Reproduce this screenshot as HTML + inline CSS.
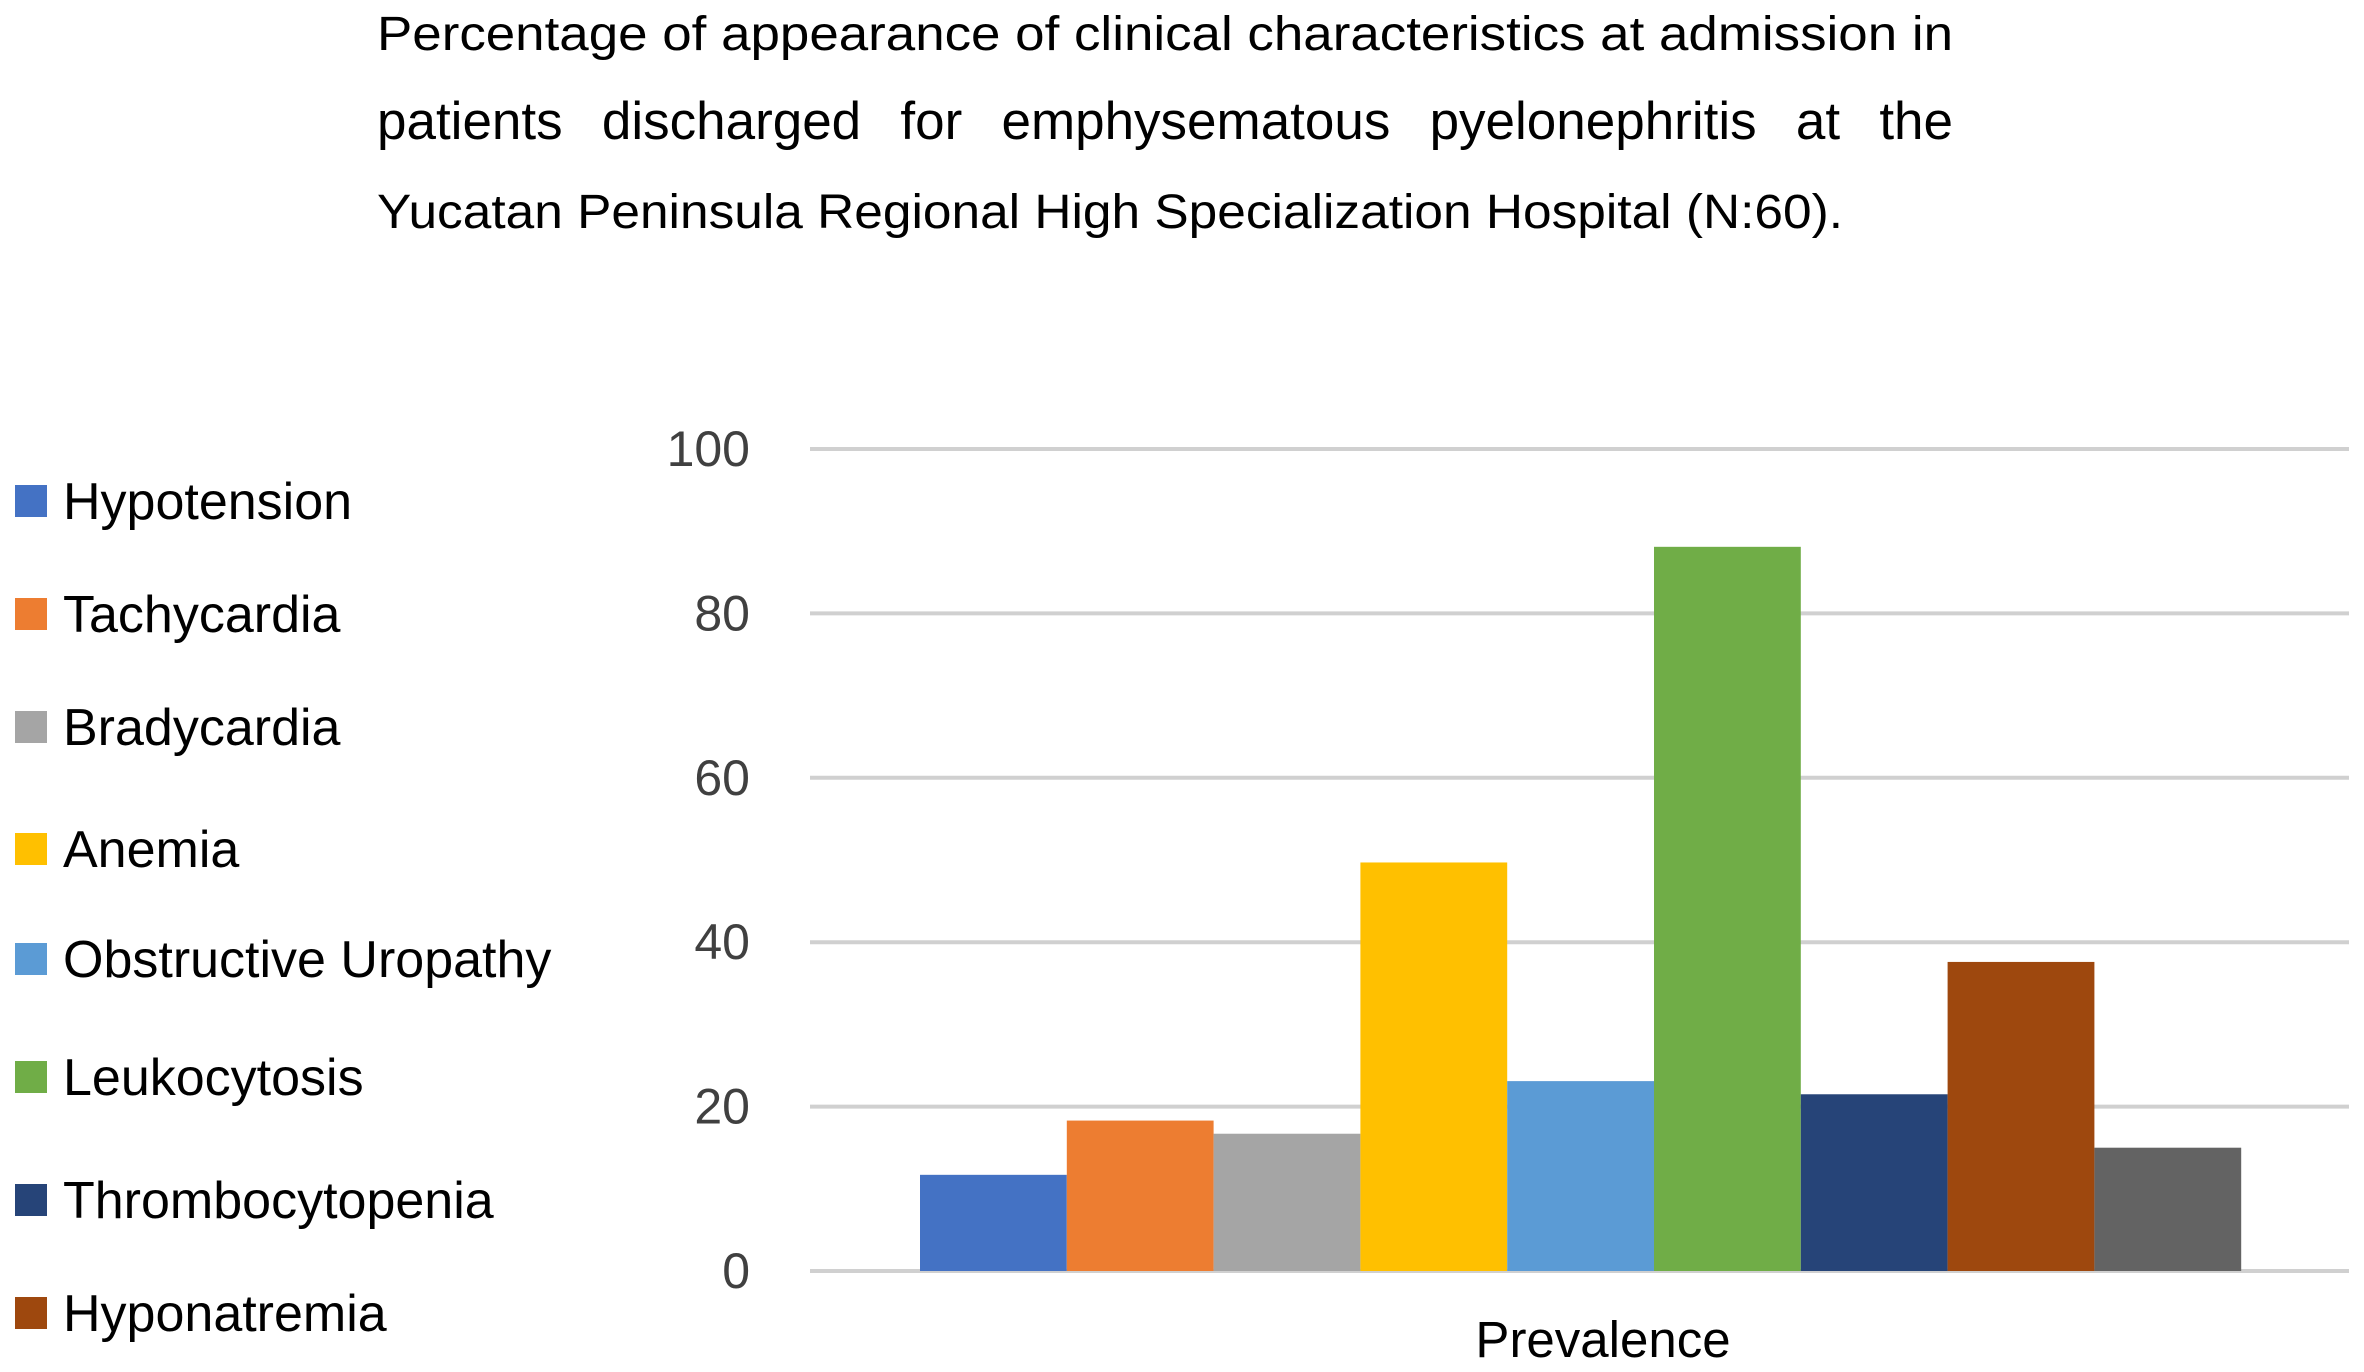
<!DOCTYPE html>
<html><head><meta charset="utf-8"><style>
html,body{margin:0;padding:0;background:#fff;}
svg{display:block;font-family:"Liberation Sans",Arial,sans-serif;}
</style></head><body>
<svg id="chart" width="2364" height="1372" viewBox="0 0 2364 1372" xmlns="http://www.w3.org/2000/svg">
<g fill="#000" font-size="48">
<text x="377" y="50" textLength="1576" lengthAdjust="spacingAndGlyphs">Percentage of appearance of clinical characteristics at admission in</text>
<g id="line2" font-size="53"></g>
<text x="377" y="228" textLength="1466" lengthAdjust="spacingAndGlyphs">Yucatan Peninsula Regional High Specialization Hospital (N:60).</text>
</g>
<g id="grid"></g>
<g id="yticks"></g>
<g id="bars"></g>
<g id="legend"></g>
<text x="1603" y="1357" font-size="51" text-anchor="middle" fill="#000">Prevalence</text>
</svg>
<script>
const categories = ["Hypotension","Tachycardia","Bradycardia","Anemia","Obstructive Uropathy","Leukocytosis","Thrombocytopenia","Hyponatremia","Other"];
const values = [11.7, 18.3, 16.7, 49.7, 23.1, 88.1, 21.5, 37.6, 15.0];
const colors = ["#4472c4","#ed7d31","#a5a5a5","#ffc000","#5b9bd5","#70ad47","#264478","#9e480e","#636363"];
const tickValues = [0,20,40,60,80,100];
const legendCount = 8;

const NS="http://www.w3.org/2000/svg";
const y0=1271, y1=449, xL=810, xR=2349, bx0=920, bw=146.8;
function yScale(v){return y0-(v/100)*(y0-y1);}
function xScale(i){return bx0+i*bw;}
function mk(tag,attrs,parent){const e=document.createElementNS(NS,tag);for(const k in attrs)e.setAttribute(k,attrs[k]);parent.appendChild(e);return e;}

const line2=document.getElementById('line2');
const words="patients discharged for emphysematous pyelonephritis at the".split(' ');
const wEls=words.map(w=>{const t=mk('text',{x:0,y:139},line2);t.textContent=w;return t;});
const widths=wEls.map(t=>t.getComputedTextLength());
const total=widths.reduce((a,b)=>a+b,0);
const gap=(1576-total)/(words.length-1);
let cx=377;
wEls.forEach((t,i)=>{t.setAttribute('x',cx);cx+=widths[i]+gap;});

const grid=document.getElementById('grid'),yt=document.getElementById('yticks'),bars=document.getElementById('bars'),leg=document.getElementById('legend');
tickValues.forEach(t=>{
  const l=mk('line',{x1:xL,x2:xR,y1:yScale(t),y2:yScale(t),stroke:'#d0d0d0','stroke-width':4},grid);
  
  
  const tx=mk('text',{x:750,y:yScale(t)+17,'font-size':50,'text-anchor':'end',fill:'#404040'},yt);
  tx.textContent=t;
  
  
});
values.forEach((v,i)=>{
  const r=mk('rect',{x:xScale(i),y:yScale(v),width:bw,height:yScale(0)-yScale(v),fill:colors[i]},bars);
  
  
});
const legY=[501,614,727,849,959,1077,1200,1313];
for(let i=0;i<legendCount;i++){
  const g=mk('g',{},leg);
  
  
  mk('rect',{x:15,y:legY[i]-16,width:32,height:32,fill:colors[i]},g);
  const t=mk('text',{x:63,y:legY[i]+18,'font-size':52,fill:'#000'},g);
  t.textContent=categories[i];
}
</script>
</body></html>
